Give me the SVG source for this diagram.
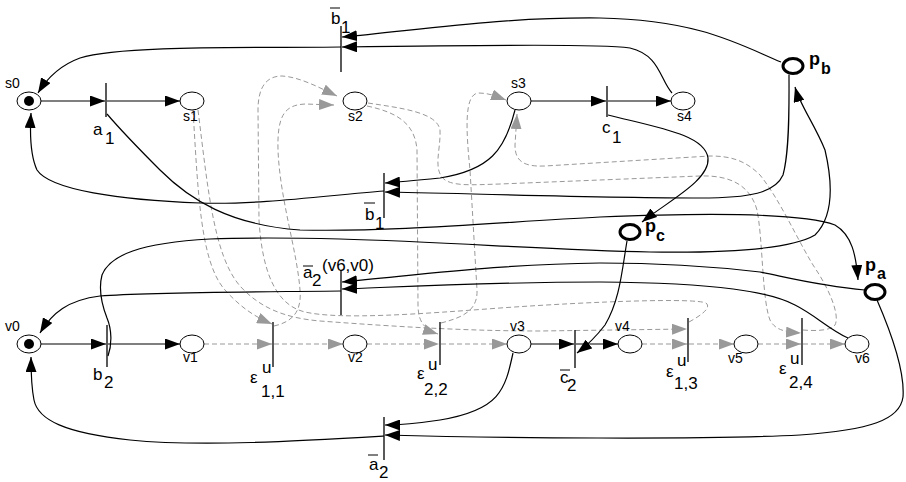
<svg xmlns="http://www.w3.org/2000/svg" width="906" height="482" viewBox="0 0 906 482">
<defs>
<marker id="ah" viewBox="0 0 15 11" refX="15" refY="5.5" markerWidth="15" markerHeight="11" orient="auto" markerUnits="userSpaceOnUse"><path d="M0,0 L15,5.5 L0,11 z" fill="#000"/></marker>
<marker id="ahg" viewBox="0 0 15 11" refX="15" refY="5.5" markerWidth="15" markerHeight="11" orient="auto" markerUnits="userSpaceOnUse"><path d="M0,0 L15,5.5 L0,11 z" fill="#999"/></marker>
<style>
.pl{fill:#fff;stroke:#000;stroke-width:1}
.pt{fill:#fff;stroke:#000;stroke-width:3}
.tk{fill:#000}
.tr{stroke:#000;stroke-width:1.3}
.ov{stroke:#000;stroke-width:1}
.c{fill:none;stroke:#000;stroke-width:1.2;marker-end:url(#ah)}
.d{fill:none;stroke:#999;stroke-width:1;stroke-dasharray:5,3;marker-end:url(#ahg)}
text{font-family:"Liberation Sans",Arial,sans-serif;fill:#000}
.nl{font-size:14px}
.tl{font-size:17px}
.bl{font-size:18px;font-weight:bold}
.bs{font-size:16px;font-weight:bold}
</style>
</defs>
<g id="connectors">
<path class="c" d="M41,101 L105,101"/>
<path class="c" d="M107,101 L180,101"/>
<path class="c" d="M531,101 L606,101"/>
<path class="c" d="M608,101 L671,101"/>
<path class="c" d="M41,344 L106,344"/>
<path class="c" d="M108,344 L180,344"/>
<path class="c" d="M531,344 L574,344"/>
<path class="c" d="M576,344 L618,344"/>
<path class="d" d="M204,344 L272,344"/>
<path class="d" d="M274,344 L343,344"/>
<path class="d" d="M367,344 L439,344"/>
<path class="d" d="M441,344 L507,344"/>
<path class="d" d="M642,344 L687,344"/>
<path class="d" d="M689,344 L734,344"/>
<path class="d" d="M758,344 L801,344"/>
<path class="d" d="M803,344 L845,344"/>
<path class="d" d="M193,110 C198,190 200,262 225,290 C243,310 258,318 272,324"/>
<path class="d" d="M198,110 C208,190 214,256 240,286 C260,308 285,318 320,321 C400,327 470,331 540,331 L687,329"/>
<path class="d" d="M274,326 C292,322 302,312 300,290 C297,250 280,200 278,150 C277,115 285,105 305,104 L334,105"/>
<path class="d" d="M689,322 C700,316 712,308 706,303 C695,298 600,301 500,308 C420,314 340,320 305,312 C275,305 262,270 259,220 L258,110 C258,85 268,76 282,76 C300,77 320,88 337,96"/>
<path class="d" d="M367,106 C395,112 415,122 417,150 L418,305 C418,322 425,330 438,334"/>
<path class="d" d="M441,323 C460,318 478,312 477,290 L470,170 C466,130 464,95 478,93 C490,93 498,97 506,100"/>
<path class="d" d="M368,103 C400,108 437,112 440,130 C441,150 432,170 445,180 C455,186 470,185 500,184 L700,176 C730,175 750,185 757,210 C763,240 762,300 770,320 C775,330 785,332 801,333"/>
<path class="d" d="M803,330 C815,331 830,331 835,325 C840,315 830,290 813,265 C795,235 780,200 760,175 C745,160 730,156 710,156 L545,166 C522,167 515,160 515,145 L517,114"/>
<path class="c" d="M781,62 C740,45 700,20 600,18 C500,17 420,30 342,37"/>
<path class="c" d="M672,93 C660,80 660,55 630,48 C600,44 500,45 342,47"/>
<path class="c" d="M341,47 C250,48 120,45 80,58 C58,66 46,80 38,93"/>
<path class="c" d="M515,110 C505,150 490,170 440,178 C420,180 400,182 385,183"/>
<path class="c" d="M789,75 C789,100 790,150 783,175 C775,193 750,198 700,198 C600,198 450,193 385,192"/>
<path class="c" d="M384,191 C330,195 260,205 200,203 C120,200 50,190 37,170 C30,155 30,130 31,113"/>
<path class="c" d="M107,114 C125,135 140,150 160,170 C190,200 230,225 300,230 C400,232 500,222 600,217 C700,213 800,212 835,225 C852,235 856,255 858,280"/>
<path class="c" d="M108,356 C112,345 112,330 107,318 C102,305 98,290 102,275 C110,255 140,243 210,239 C260,237 300,238 340,239 C450,242 550,250 650,252 C720,253 790,250 815,235 C835,215 832,180 825,150 C815,125 800,105 795,87"/>
<path class="c" d="M608,115 C660,128 705,135 708,158 C710,180 670,200 642,222"/>
<path class="c" d="M627,241 C622,270 620,300 605,325 C595,338 585,347 577,353"/>
<path class="c" d="M513,353 C505,390 500,410 440,420 C420,423 400,425 385,425"/>
<path class="c" d="M877,300 C890,330 905,370 903,397 C900,420 870,430 800,435 C700,440 500,438 385,435"/>
<path class="c" d="M384,436 C300,441 200,447 130,440 C65,433 38,420 34,400 C31,385 31,370 31,357"/>
<path class="c" d="M865,290 C820,286 790,278 760,272 C700,265 650,263 600,263 C500,264 420,275 342,282"/>
<path class="c" d="M848,338 C830,330 815,315 795,305 C770,292 720,283 600,282 C500,282 420,286 342,289"/>
<path class="c" d="M341,291 C250,292 150,292 100,296 C68,300 52,313 40,333"/>
</g>
<g id="s0"><ellipse class="pl" cx="29" cy="101" rx="12" ry="9"/><circle class="tk" cx="29" cy="101" r="5"/><text class="nl" x="5" y="88">s0</text></g>
<g id="s1"><ellipse class="pl" cx="192" cy="101" rx="12" ry="9"/><text class="nl" x="183" y="121">s1</text></g>
<g id="s2"><ellipse class="pl" cx="355" cy="101" rx="12" ry="9"/><text class="nl" x="348" y="121">s2</text></g>
<g id="s3"><ellipse class="pl" cx="519" cy="101" rx="12" ry="9"/><text class="nl" x="511" y="88">s3</text></g>
<g id="s4"><ellipse class="pl" cx="683" cy="101" rx="12" ry="9"/><text class="nl" x="677" y="121">s4</text></g>
<g id="pb"><ellipse class="pt" cx="793" cy="66" rx="10" ry="7.5"/><text class="bl" x="809" y="65">p</text><text class="bs" x="821" y="74">b</text></g>
<g id="pc"><ellipse class="pt" cx="630" cy="232" rx="10" ry="7.5"/><text class="bl" x="645" y="232">p</text><text class="bs" x="656" y="241">c</text></g>
<g id="pa"><ellipse class="pt" cx="875" cy="292" rx="10" ry="7.5"/><text class="bl" x="865" y="271">p</text><text class="bs" x="877" y="279">a</text></g>
<g id="v0"><ellipse class="pl" cx="29" cy="344" rx="12" ry="9"/><circle class="tk" cx="29" cy="344" r="5"/><text class="nl" x="5" y="331">v0</text></g>
<g id="v1"><ellipse class="pl" cx="192" cy="344" rx="12" ry="9"/><text class="nl" x="183" y="362">v1</text></g>
<g id="v2"><ellipse class="pl" cx="355" cy="344" rx="12" ry="9"/><text class="nl" x="348" y="362">v2</text></g>
<g id="v3"><ellipse class="pl" cx="519" cy="344" rx="12" ry="9"/><text class="nl" x="510" y="331">v3</text></g>
<g id="v4"><ellipse class="pl" cx="630" cy="344" rx="12" ry="9"/><text class="nl" x="615" y="331">v4</text></g>
<g id="v5"><ellipse class="pl" cx="746" cy="344" rx="12" ry="9"/><text class="nl" x="728" y="363">v5</text></g>
<g id="v6"><ellipse class="pl" cx="857" cy="344" rx="12" ry="9"/><text class="nl" x="855" y="363">v6</text></g>
<g id="a1"><line class="tr" x1="106" y1="83" x2="106" y2="117"/><text class="tl" x="93" y="135">a</text><text class="tl" x="105" y="144">1</text></g>
<g id="b1top"><line class="tr" x1="341" y1="26" x2="341" y2="72"/><line class="ov" x1="330" y1="8" x2="340" y2="8"/><text class="tl" x="331" y="24">b</text><text class="tl" x="341" y="33">1</text></g>
<g id="c1"><line class="tr" x1="607" y1="86" x2="607" y2="117"/><text class="tl" x="602" y="133">c</text><text class="tl" x="612" y="143">1</text></g>
<g id="b1mid"><line class="tr" x1="384" y1="173" x2="384" y2="218"/><line class="ov" x1="364" y1="203" x2="375" y2="203"/><text class="tl" x="365" y="220">b</text><text class="tl" x="375" y="229">1</text></g>
<g id="a2v6v0"><line class="tr" x1="341" y1="270" x2="341" y2="315"/><line class="ov" x1="303" y1="266" x2="313" y2="266"/><text class="tl" x="303" y="278">a</text><text class="tl" x="312" y="286">2</text><text class="tl" x="322" y="271">(v6,v0)</text></g>
<g id="b2"><line class="tr" x1="107" y1="325" x2="107" y2="367"/><text class="tl" x="93" y="380">b</text><text class="tl" x="104" y="388">2</text></g>
<g id="e11"><line class="tr" x1="273" y1="322" x2="273" y2="367"/><text class="tl" x="250" y="383">ε</text><text class="tl" x="262" y="373">u</text><text class="tl" x="261" y="397">1,1</text></g>
<g id="e22"><line class="tr" x1="440" y1="322" x2="440" y2="365"/><text class="tl" x="417" y="379">ε</text><text class="tl" x="428" y="370">u</text><text class="tl" x="424" y="395">2,2</text></g>
<g id="c2"><line class="tr" x1="575" y1="330" x2="575" y2="368"/><line class="ov" x1="560" y1="370" x2="570" y2="370"/><text class="tl" x="560" y="383">c</text><text class="tl" x="567" y="391">2</text></g>
<g id="a2bot"><line class="tr" x1="384" y1="417" x2="384" y2="460"/><line class="ov" x1="368" y1="455" x2="378" y2="455"/><text class="tl" x="369" y="470">a</text><text class="tl" x="379" y="478">2</text></g>
<g id="e13"><line class="tr" x1="688" y1="318" x2="688" y2="362"/><text class="tl" x="666" y="377">ε</text><text class="tl" x="677" y="366">u</text><text class="tl" x="674" y="389">1,3</text></g>
<g id="e24"><line class="tr" x1="802" y1="318" x2="802" y2="365"/><text class="tl" x="779" y="374">ε</text><text class="tl" x="790" y="364">u</text><text class="tl" x="789" y="388">2,4</text></g>
</svg>
